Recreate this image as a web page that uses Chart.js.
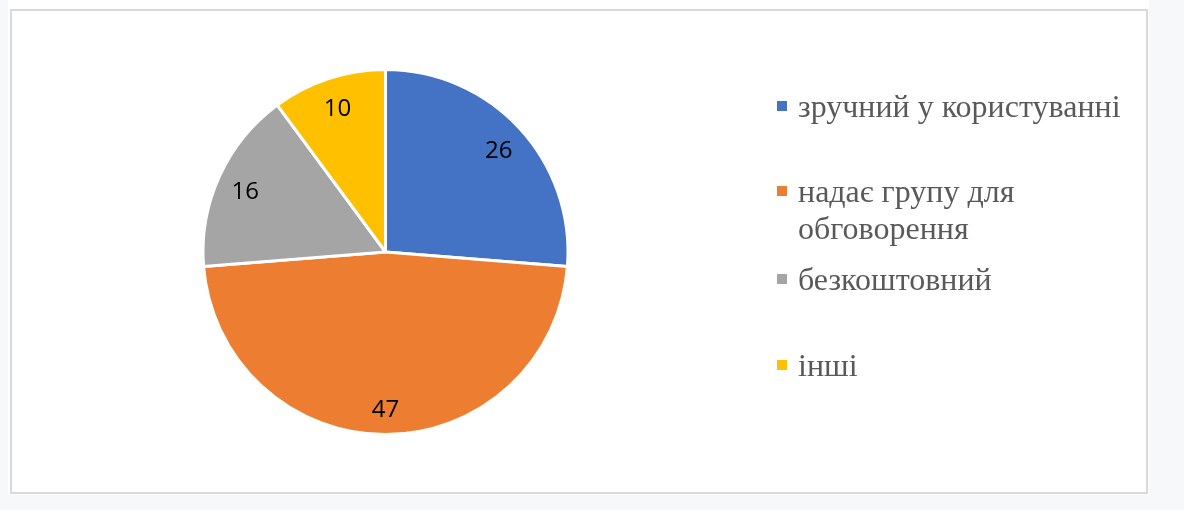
<!DOCTYPE html>
<html>
<head>
<meta charset="utf-8">
<script src="https://cdn.jsdelivr.net/npm/chart.js@4"></script>
<style>
  html, body { margin: 0; padding: 0; background: #f7f8fa; }
  #wrap { width: 1184px; height: 510px; position: relative; }
</style>
</head>
<body>
<div id="wrap"><canvas id="myChart" width="1184" height="510"></canvas></div>
<script>
var labels = ['зручний у користуванні', 'надає групу для обговорення', 'безкоштовний', 'інші'];
var legendLines = [['зручний у користуванні'], ['надає групу для', 'обговорення'], ['безкоштовний'], ['інші']];
var values = [26, 47, 16, 10];
var colors = ['#4472C4', '#ED7D31', '#A5A5A5', '#FFC000'];

var legendFont = '32px "Liberation Serif", "DejaVu Serif", serif';
var numberFont = '24px "Open Sans", "Liberation Sans", sans-serif';

// white frame behind the chart
var frame = {
    id: 'frame',
    beforeDraw: function(chart) {
        var c = chart.ctx;
        c.save();
        c.fillStyle = '#f7f8fa';
        c.fillRect(0, 0, chart.width, chart.height);
        c.fillStyle = '#ffffff';
        c.fillRect(8, 0, 1141, 495);
        c.strokeStyle = '#d9d9d9';
        c.lineWidth = 2;
        c.strokeRect(11, 10, 1136, 483);
        c.restore();
    }
};

// numbers inside the slices
var sliceLabels = {
    id: 'sliceLabels',
    afterDatasetsDraw: function(chart) {
        var c = chart.ctx;
        var meta = chart.getDatasetMeta(0);
        c.save();
        c.font = numberFont;
        c.fillStyle = '#000000';
        c.textAlign = 'center';
        c.textBaseline = 'middle';
        meta.data.forEach(function(arc, i) {
            var mid = (arc.startAngle + arc.endAngle) / 2;
            var r = arc.outerRadius * 0.845;
            c.fillText(String(values[i]), arc.x + Math.cos(mid) * r, arc.y + Math.sin(mid) * r + 4);
        });
        c.restore();
    }
};

// legend on the right, drawn by hand so one entry can wrap
var sideLegend = {
    id: 'sideLegend',
    afterDraw: function(chart) {
        var c = chart.ctx;
        var tops = [106, 191, 279, 365];
        c.save();
        c.font = legendFont;
        c.textBaseline = 'alphabetic';
        legendLines.forEach(function(lines, i) {
            c.fillStyle = colors[i];
            c.fillRect(777, tops[i] - 5, 10, 10);
            c.fillStyle = '#595959';
            lines.forEach(function(t, j) {
                c.fillText(t, 798, tops[i] + 11 + j * 37);
            });
        });
        c.restore();
    }
};

function draw() {
    var ctx = document.getElementById('myChart').getContext('2d');
    var myChart = new Chart(ctx, {
        type: 'pie',
        data: {
            labels: labels,
            datasets: [{
                data: values,
                backgroundColor: colors,
                borderColor: '#ffffff',
                borderWidth: 3
            }]
        },
        options: {
            responsive: false,
            animation: false,
            layout: {
                padding: { left: 201, right: 614, top: 68, bottom: 74 }
            },
            plugins: {
                legend: { display: false },
                tooltip: { enabled: false }
            }
        },
        plugins: [frame, sliceLabels, sideLegend]
    });
}

Promise.all([
    document.fonts.load(legendFont, 'надає групу'),
    document.fonts.load(numberFont, '0123456789')
]).then(draw, draw);
</script>
</body>
</html>
